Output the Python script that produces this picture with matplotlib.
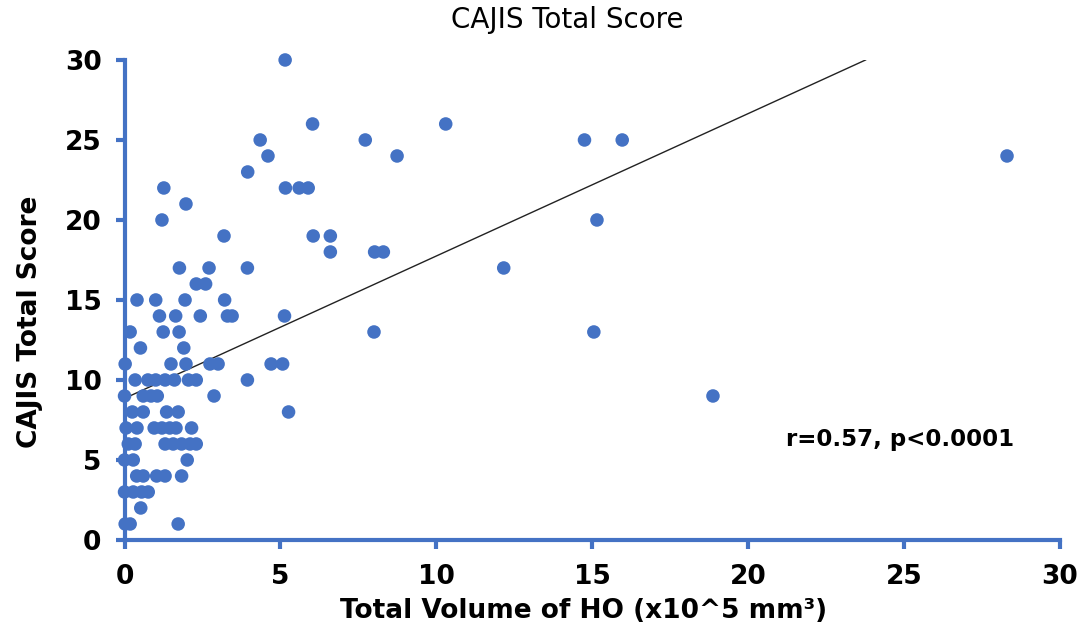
import numpy as np
from matplotlib import pyplot as plt

# 读取自图中的散点 (x: 体积 x10^5 mm3, y: CAJIS 总分)
score_30 = [5.15]
score_26 = [6.03, 10.3]
score_25 = [4.35, 7.72, 14.75, 15.96]
score_24 = [4.6, 8.74, 28.3]
score_23 = [3.95]
score_22 = [1.26, 5.16, 5.6, 5.89]
score_21 = [1.97]
score_20 = [1.2, 15.15]
score_19 = [3.19, 6.05, 6.6]
score_18 = [6.6, 8.02, 8.3]
score_17 = [1.76, 2.71, 3.94, 12.16]
score_16 = [2.3, 2.6]
score_15 = [0.4, 1.0, 1.94, 3.21]
score_14 = [1.12, 1.64, 2.43, 3.3, 3.45, 5.13]
score_13 = [0.18, 1.24, 1.75, 8.0, 15.05]
score_12 = [0.51, 1.9]
score_11 = [0.02, 1.49, 1.97, 2.74, 3.0, 4.7, 5.07]
score_10 = [0.34, 0.75, 1.0, 1.3, 1.6, 2.05, 2.3, 3.94]
score_9 = [0.0, 0.6, 0.85, 1.05, 2.87, 18.87]
score_8 = [0.25, 0.6, 1.35, 1.72, 5.26]
score_7 = [0.05, 0.4, 0.95, 1.2, 1.45, 1.65, 2.15]
score_6 = [0.12, 0.34, 1.3, 1.56, 1.83, 2.1, 2.3]
score_5 = [0.0, 0.28, 2.01]
score_4 = [0.39, 0.6, 1.03, 1.3, 1.83]
score_3 = [0.0, 0.28, 0.55, 0.76]
score_2 = [0.52]
score_1 = [0.02, 0.18, 1.72]

rows = {
    30: score_30, 26: score_26, 25: score_25, 24: score_24, 23: score_23,
    22: score_22, 21: score_21, 20: score_20, 19: score_19, 18: score_18,
    17: score_17, 16: score_16, 15: score_15, 14: score_14, 13: score_13,
    12: score_12, 11: score_11, 10: score_10, 9: score_9, 8: score_8,
    7: score_7, 6: score_6, 5: score_5, 4: score_4, 3: score_3,
    2: score_2, 1: score_1,
}

# 趋势线
fit_intercept = 8.85
fit_slope = 0.89

ticks = [0, 5, 10, 15, 20, 25, 30]

blue = "#4472C4"

xs = []
ys = []
for score, vols in rows.items():
    xs += vols
    ys += [score] * len(vols)

fig = plt.figure(figsize=(10.82, 6.32), dpi=100)
ax = fig.add_axes([0.1151, 0.1456, 0.8646, 0.7595])

ax.scatter(xs, ys, s=95, color=blue, edgecolors="none", clip_on=False, zorder=3)

# 趋势线画到 y=30 为止
x_end = (30 - fit_intercept) / fit_slope
line_x = np.array([0, x_end])
ax.plot(line_x, fit_intercept + fit_slope * line_x, color="#222222", lw=1.0, zorder=2)

ax.set_xlim(0, 30)
ax.set_ylim(0, 30)
ax.set_xticks(ticks)
ax.set_yticks(ticks)

for side in ["top", "right"]:
    ax.spines[side].set_visible(False)
for side in ["left", "bottom"]:
    ax.spines[side].set_color(blue)
    ax.spines[side].set_linewidth(3)

ax.tick_params(direction="out", length=6.5, width=3, color=blue, labelsize=19)
ax.tick_params(axis="y", pad=10)
ax.tick_params(axis="x", pad=11)
for lab in ax.get_xticklabels() + ax.get_yticklabels():
    lab.set_fontweight("bold")

# 标题和坐标轴标签按参考图位置放置
fig.text(567 / 1082, 1 - 20 / 632, "CAJIS Total Score", fontsize=20,
         ha="center", va="center")
fig.text(584 / 1082, 1 - 611 / 632, "Total Volume of HO (x10^5 mm³)", fontsize=19,
         fontweight="bold", ha="center", va="center")
fig.text(30 / 1082, 1 - 322 / 632, "CAJIS Total Score", fontsize=19,
         fontweight="bold", ha="center", va="center", rotation=90)

ax.text(21.2, 6.25, "r=0.57, p<0.0001", fontsize=16.5, fontweight="bold", va="center")

fig.savefig("out.png", dpi=100)
